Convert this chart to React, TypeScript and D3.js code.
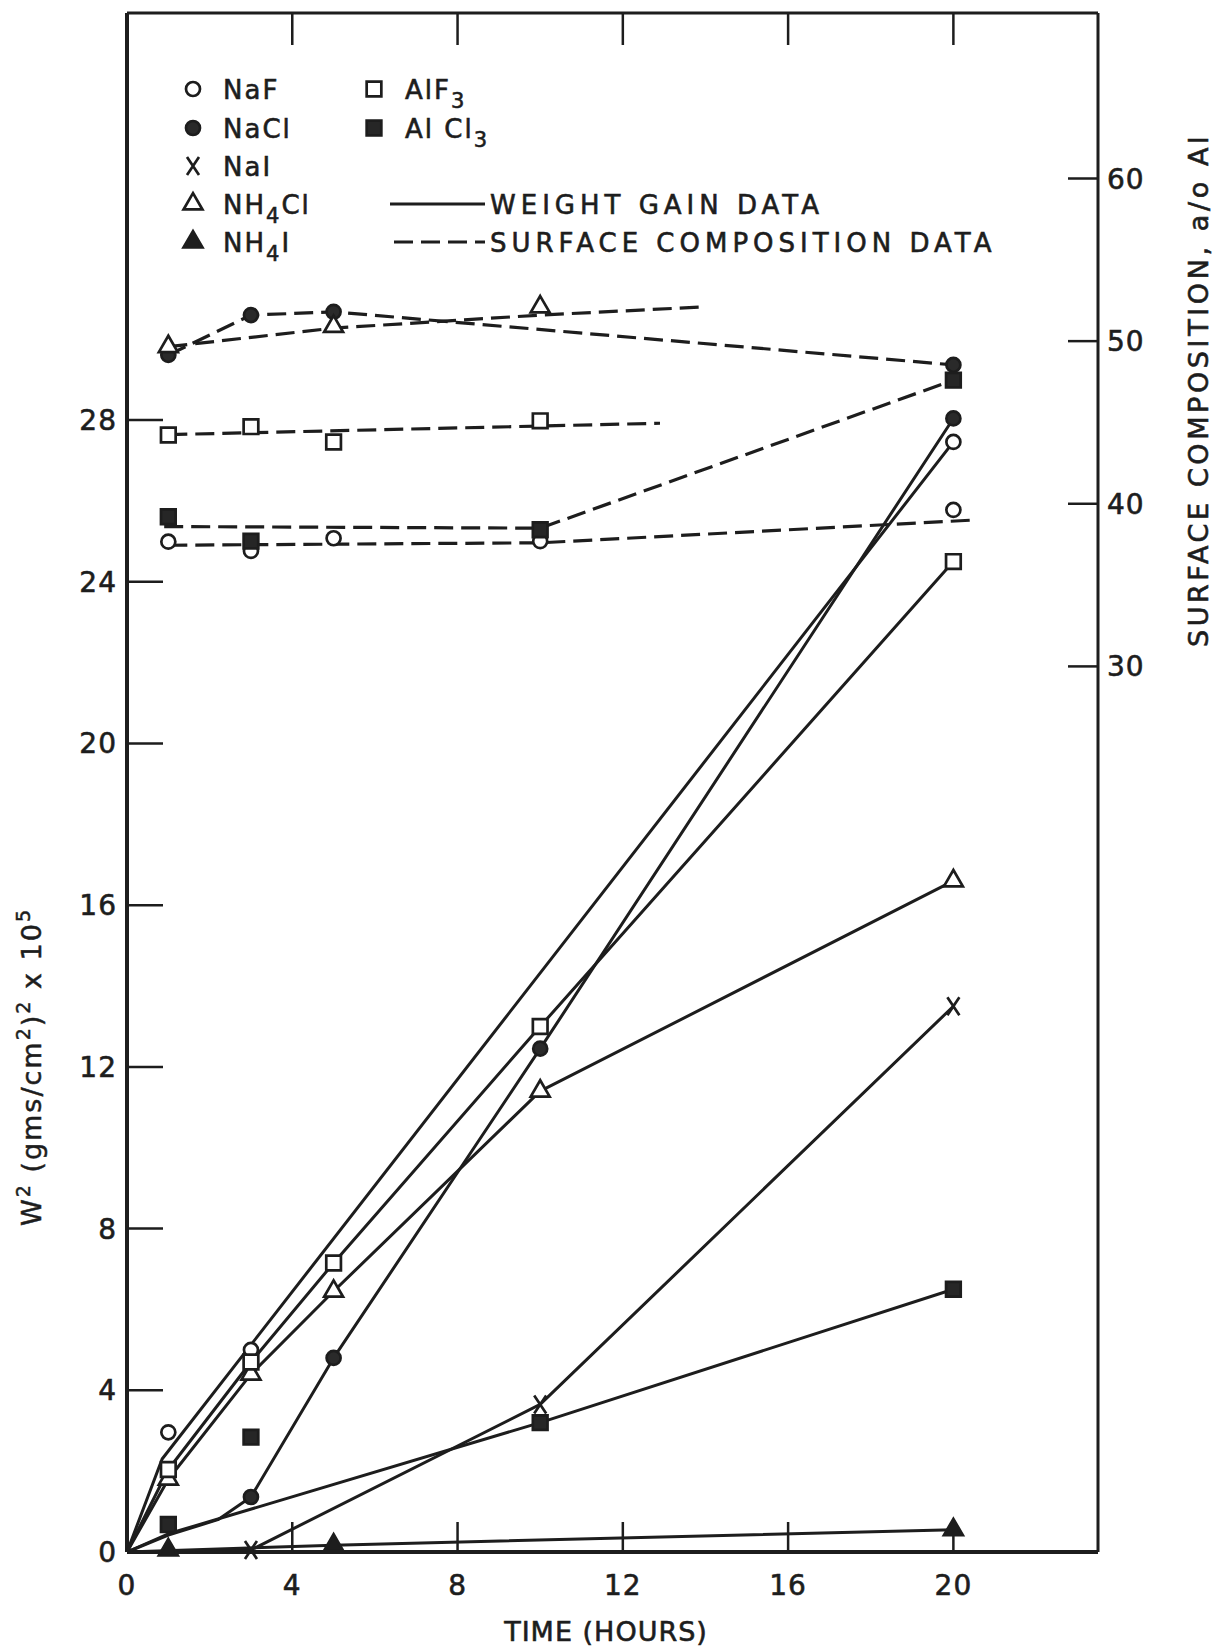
import React, { useEffect, useRef } from "react";
import * as d3 from "d3";

type Pt = [number, number];

// axis ticks
const TIME_TICKS = [0, 4, 8, 12, 16, 20];
const W2_TICKS = [0, 4, 8, 12, 16, 20, 24, 28];
const SURFACE_TICKS = [30, 40, 50, 60];

// weight gain data, W^2 (gms/cm^2)^2 x 10^5 against time (hours)
const nafWeight: Pt[] = [[1, 2.96], [3, 5.0], [20, 27.46]];
const naclWeight: Pt[] = [[3, 1.36], [5, 4.8], [10, 12.45], [20, 28.04]];
const naiWeight: Pt[] = [[3, 0.05], [10, 3.65], [20, 13.5]];
const nh4clWeight: Pt[] = [[1, 1.8], [3, 4.4], [5, 6.45], [10, 11.4], [20, 16.6]];
const nh4iWeight: Pt[] = [[1, 0.05], [5, 0.17], [20, 0.55]];
const alf3Weight: Pt[] = [[1, 2.04], [3, 4.7], [5, 7.15], [10, 13.0], [20, 24.5]];
const alcl3Weight: Pt[] = [[1, 0.68], [3, 2.84], [10, 3.2], [20, 6.5]];

// hand drawn curves through the weight gain points
const nafWeightCurve: Pt[] = [[0, 0], [0.85, 2.3], [20, 27.46]];
const naclWeightCurve: Pt[] = [[0, 0], [1, 0.42], [2.2, 0.8], [3, 1.36], [5, 4.8], [10, 12.45], [20, 28.04]];
const naiWeightCurve: Pt[] = [[0, 0], [3, 0.05], [10, 3.65], [20, 13.5]];
const nh4clWeightCurve: Pt[] = [[0, 0], [1, 1.8], [3, 4.4], [5, 6.45], [10, 11.4], [20, 16.6]];
const nh4iWeightCurve: Pt[] = [[0, 0], [5, 0.17], [20, 0.55]];
const alf3WeightCurve: Pt[] = [[0, 0], [1, 2.04], [3, 4.7], [5, 7.15], [10, 13.0], [20, 24.5]];
const alcl3WeightCurve: Pt[] = [[0, 0], [1, 0.45], [10, 3.2], [20, 6.5]];

// surface composition data, a/o Al
const nafSurface: Pt[] = [[1, 37.67], [3, 37.1], [5, 37.88], [10, 37.7], [20, 39.62]];
const naclSurface: Pt[] = [[1, 49.15], [3, 51.6], [5, 51.8], [20, 48.54]];
const nh4clSurface: Pt[] = [[1, 49.66], [5, 50.9], [10, 52.1]];
const alf3Surface: Pt[] = [[1, 44.23], [3, 44.74], [5, 43.8], [10, 45.1]];
const alcl3Surface: Pt[] = [[1, 39.2], [3, 37.7], [10, 38.4], [20, 47.6]];

const nafSurfaceCurve: Pt[] = [[1, 37.45], [10, 37.6], [20.5, 39.0]];
const naclSurfaceCurve: Pt[] = [[1, 49.15], [3, 51.6], [5, 51.8], [20, 48.54]];
const nh4clSurfaceCurve: Pt[] = [[1, 49.66], [5, 50.8], [10, 51.6], [13.9, 52.1]];
const alf3SurfaceCurve: Pt[] = [[1, 44.25], [12.9, 44.95]];
const alcl3SurfaceCurve: Pt[] = [[0.9, 38.6], [10, 38.5], [20, 47.6]];

const WIDTH = 1224;
const HEIGHT = 1650;
const frame = { left: 127, right: 1098, top: 13, bottom: 1552 };
const INK = "#1d1d1d";
const FONT = "'DejaVu Sans', sans-serif";

type Marker = "circle" | "dot" | "x" | "tri" | "triFill" | "square" | "squareFill";

const weightSeries: { marker: Marker; points: Pt[]; curve: Pt[] }[] = [
  { marker: "circle", points: nafWeight, curve: nafWeightCurve },
  { marker: "dot", points: naclWeight, curve: naclWeightCurve },
  { marker: "x", points: naiWeight, curve: naiWeightCurve },
  { marker: "tri", points: nh4clWeight, curve: nh4clWeightCurve },
  { marker: "triFill", points: nh4iWeight, curve: nh4iWeightCurve },
  { marker: "square", points: alf3Weight, curve: alf3WeightCurve },
  { marker: "squareFill", points: alcl3Weight, curve: alcl3WeightCurve },
];

const surfaceSeries: { marker: Marker; points: Pt[]; curve: Pt[] }[] = [
  { marker: "circle", points: nafSurface, curve: nafSurfaceCurve },
  { marker: "dot", points: naclSurface, curve: naclSurfaceCurve },
  { marker: "tri", points: nh4clSurface, curve: nh4clSurfaceCurve },
  { marker: "square", points: alf3Surface, curve: alf3SurfaceCurve },
  { marker: "squareFill", points: alcl3Surface, curve: alcl3SurfaceCurve },
];

// legend: [marker, text, subscript, rest]
const legendLeft: [Marker, string, string, string][] = [
  ["circle", "NaF", "", ""],
  ["dot", "NaCl", "", ""],
  ["x", "NaI", "", ""],
  ["tri", "NH", "4", "Cl"],
  ["triFill", "NH", "4", "I"],
];
const legendRight: [Marker, string, string, string][] = [
  ["square", "AlF", "3", ""],
  ["squareFill", "Al Cl", "3", ""],
];

function drawMarker(g: d3.Selection<SVGGElement, unknown, null, undefined>, kind: Marker, cx: number, cy: number) {
  const s = g.append("g").attr("transform", `translate(${cx},${cy})`);
  const sw = 2.7;
  if (kind === "circle" || kind === "dot") {
    s.append("circle").attr("r", 7)
      .attr("fill", kind === "dot" ? "#2a2a2a" : "#fff")
      .attr("stroke", INK).attr("stroke-width", sw);
  } else if (kind === "square" || kind === "squareFill") {
    s.append("path").attr("d", d3.symbol().type(d3.symbolSquare).size(215)())
      .attr("fill", kind === "squareFill" ? "#262626" : "#fff")
      .attr("stroke", INK).attr("stroke-width", sw);
  } else if (kind === "tri" || kind === "triFill") {
    s.append("path").attr("d", d3.symbol().type(d3.symbolTriangle).size(155)())
      .attr("fill", kind === "triFill" ? INK : "#fff")
      .attr("stroke", INK).attr("stroke-width", sw);
  } else {
    s.append("path").attr("d", "M-6,-9L6,9M6,-9L-6,9")
      .attr("fill", "none")
      .attr("stroke", INK).attr("stroke-width", sw);
  }
}

export default function App() {
  const ref = useRef<SVGSVGElement>(null);

  useEffect(() => {
    const svg = d3.select(ref.current);
    svg.selectAll("*").remove();

    const x = d3.scaleLinear().domain([0, 23.5]).range([frame.left, frame.right]);
    const y = d3.scaleLinear().domain([0, 38.07]).range([frame.bottom, frame.top]);
    const r = d3.scaleLinear().domain([30, 60]).range([666.4, 178.5]);

    const root = svg.append("g");

    // frame
    root.append("line").attr("x1", frame.left).attr("x2", frame.left).attr("y1", frame.top).attr("y2", frame.bottom)
      .attr("stroke", INK).attr("stroke-width", 4);
    root.append("line").attr("x1", frame.left).attr("x2", frame.right).attr("y1", frame.bottom).attr("y2", frame.bottom)
      .attr("stroke", INK).attr("stroke-width", 4);
    root.append("line").attr("x1", frame.left).attr("x2", frame.right).attr("y1", frame.top).attr("y2", frame.top)
      .attr("stroke", INK).attr("stroke-width", 3);
    root.append("line").attr("x1", frame.right).attr("x2", frame.right).attr("y1", frame.top).attr("y2", frame.bottom)
      .attr("stroke", INK).attr("stroke-width", 3);

    // ticks
    TIME_TICKS.filter(t => t > 0).forEach(t => {
      root.append("line").attr("x1", x(t)).attr("x2", x(t)).attr("y1", frame.bottom).attr("y2", frame.bottom - 30)
        .attr("stroke", INK).attr("stroke-width", 2.5);
      root.append("line").attr("x1", x(t)).attr("x2", x(t)).attr("y1", frame.top).attr("y2", frame.top + 32)
        .attr("stroke", INK).attr("stroke-width", 2.5);
    });
    W2_TICKS.filter(t => t > 0).forEach(t => {
      root.append("line").attr("x1", frame.left).attr("x2", frame.left + 36).attr("y1", y(t)).attr("y2", y(t))
        .attr("stroke", INK).attr("stroke-width", 2.5);
    });
    SURFACE_TICKS.forEach(t => {
      root.append("line").attr("x1", frame.right).attr("x2", frame.right - 30).attr("y1", r(t)).attr("y2", r(t))
        .attr("stroke", INK).attr("stroke-width", 2.5);
    });

    const label = (tx: number, ty: number, txt: string, anchor: string, size: number, spacing = 1) =>
      root.append("text").attr("x", tx).attr("y", ty).attr("text-anchor", anchor)
        .attr("font-family", FONT).attr("font-size", size).attr("letter-spacing", spacing)
        .attr("fill", INK).attr("stroke", INK).attr("stroke-width", 0.6).text(txt);

    TIME_TICKS.forEach(t => label(x(t), 1595, String(t), "middle", 28));
    W2_TICKS.forEach(t => label(frame.left - 10, y(t) + 10, String(t), "end", 28));
    SURFACE_TICKS.forEach(t => label(frame.right + 9, r(t) + 10, String(t), "start", 28));

    label(606, 1641, "TIME (HOURS)", "middle", 27, 1);

    // right axis title
    root.append("text").attr("transform", `translate(1208,${390}) rotate(-90)`).attr("text-anchor", "middle")
      .attr("font-family", FONT).attr("font-size", 27).attr("letter-spacing", 3.6).attr("fill", INK)
      .attr("stroke", INK).attr("stroke-width", 0.6)
      .text("SURFACE COMPOSITION, a/o Al");

    // left axis title
    const lt = root.append("text").attr("transform", `translate(41,${1067}) rotate(-90)`).attr("text-anchor", "middle")
      .attr("font-family", FONT).attr("font-size", 27).attr("letter-spacing", 2).attr("fill", INK)
      .attr("stroke", INK).attr("stroke-width", 0.5);
    lt.append("tspan").text("W");
    lt.append("tspan").attr("dy", -11).attr("font-size", 19).text("2");
    lt.append("tspan").attr("dy", 11).text("  (gms/cm");
    lt.append("tspan").attr("dy", -11).attr("font-size", 19).text("2");
    lt.append("tspan").attr("dy", 11).text(")");
    lt.append("tspan").attr("dy", -11).attr("font-size", 19).text("2");
    lt.append("tspan").attr("dy", 11).text(" x 10");
    lt.append("tspan").attr("dy", -11).attr("font-size", 19).text("5");

    // curves
    const line = d3.line<Pt>().x(d => x(d[0]));
    const plot = root.append("g");
    weightSeries.forEach(s => {
      plot.append("path").attr("d", line.y(d => y(d[1]))(s.curve))
        .attr("fill", "none").attr("stroke", INK).attr("stroke-width", 3).attr("stroke-linejoin", "round");
    });
    surfaceSeries.forEach(s => {
      plot.append("path").attr("d", line.y(d => r(d[1]))(s.curve))
        .attr("fill", "none").attr("stroke", INK).attr("stroke-width", 3.2).attr("stroke-dasharray", "19 8");
    });

    // markers
    weightSeries.forEach(s => s.points.forEach(p => drawMarker(plot, s.marker, x(p[0]), y(p[1]))));
    surfaceSeries.forEach(s => s.points.forEach(p => drawMarker(plot, s.marker, x(p[0]), r(p[1]))));

    // legend
    const leg = root.append("g");
    const rowY = [89, 128, 166, 204, 242];
    const legendText = (tx: number, ty: number, e: [Marker, string, string, string]) => {
      const t = leg.append("text").attr("x", tx).attr("y", ty + 10).attr("font-family", FONT)
        .attr("font-size", 26).attr("letter-spacing", 2).attr("fill", INK)
        .attr("stroke", INK).attr("stroke-width", 0.6);
      t.append("tspan").text(e[1]);
      if (e[2]) {
        t.append("tspan").attr("dy", 9).attr("font-size", 21).text(e[2]);
        if (e[3]) t.append("tspan").attr("dy", -9).text(e[3]);
      }
    };
    legendLeft.forEach((e, i) => {
      drawMarker(leg, e[0], 193, rowY[i]);
      legendText(223, rowY[i], e);
    });
    legendRight.forEach((e, i) => {
      drawMarker(leg, e[0], 374, rowY[i]);
      legendText(405, rowY[i], e);
    });
    leg.append("line").attr("x1", 390).attr("x2", 485).attr("y1", rowY[3]).attr("y2", rowY[3])
      .attr("stroke", INK).attr("stroke-width", 3);
    leg.append("line").attr("x1", 394).attr("x2", 485).attr("y1", rowY[4]).attr("y2", rowY[4])
      .attr("stroke", INK).attr("stroke-width", 3).attr("stroke-dasharray", "19 8");
    leg.append("text").attr("x", 490).attr("y", rowY[3] + 10).attr("font-family", FONT).attr("font-size", 26)
      .attr("letter-spacing", 5).attr("fill", INK).attr("stroke", INK).attr("stroke-width", 0.6)
      .text("WEIGHT GAIN DATA");
    leg.append("text").attr("x", 490).attr("y", rowY[4] + 10).attr("font-family", FONT).attr("font-size", 26)
      .attr("letter-spacing", 5).attr("fill", INK).attr("stroke", INK).attr("stroke-width", 0.6)
      .text("SURFACE COMPOSITION DATA");
  }, []);

  return (
    <svg ref={ref} width={WIDTH} height={HEIGHT}
      style={{ position: "absolute", left: 0, top: 0, background: "#fff" }} />
  );
}
